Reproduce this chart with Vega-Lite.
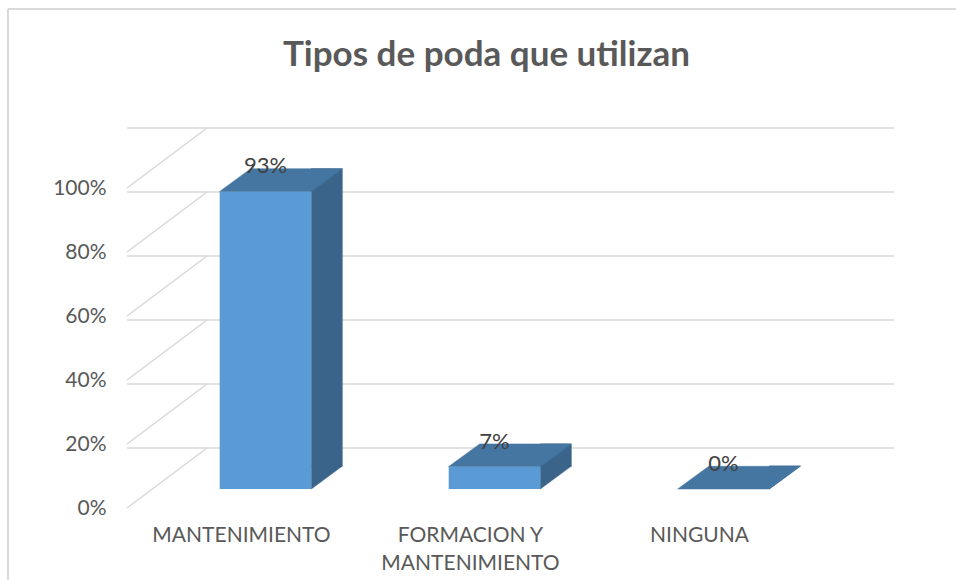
{
  "$schema": "https://vega.github.io/schema/vega-lite/v6.json",
  "width": 687,
  "height": 320,
  "autosize": {"type": "none"},
  "padding": {"left": 127, "top": 188, "right": 142, "bottom": 72},
  "background": "white",
  "config": {"view": {"stroke": null}, "font": "Lato"},
  "title": {
    "text": "Tipos de poda que utilizan",
    "font": "Lato",
    "fontSize": 35,
    "fontWeight": "bold",
    "color": "#595959",
    "anchor": "middle",
    "frame": "group",
    "baseline": "alphabetic",
    "dx": 16,
    "offset": 0,
    "dy": 93
  },
  "data": {
    "values": [
      {"tipo": "MANTENIMIENTO", "valor": 0.93},
      {"tipo": "FORMACION Y MANTENIMIENTO", "valor": 0.07},
      {"tipo": "NINGUNA", "valor": 0.0}
    ]
  },
  "encoding": {
    "x": {
      "field": "tipo",
      "type": "nominal",
      "sort": null,
      "scale": {"paddingInner": 0, "paddingOuter": 0},
      "axis": {
        "title": null,
        "labelAngle": 0,
        "ticks": false,
        "domain": false,
        "grid": false,
        "labelFont": "Lato",
        "labelFontSize": 21,
        "labelColor": "#595959",
        "labelPadding": 16,
        "labelLineHeight": 28,
        "labelLimit": 300,
        "labelExpr": "datum.label == 'FORMACION Y MANTENIMIENTO' ? ['FORMACION Y', 'MANTENIMIENTO'] : datum.label"
      }
    }
  },
  "layer": [
    {
      "data": {"values": [{"t": 0}, {"t": 0.2}, {"t": 0.4}, {"t": 0.6}, {"t": 0.8}, {"t": 1.0}]},
      "mark": {"type": "rule", "color": "#D9D9D9", "strokeWidth": 1.5, "xOffset": 80, "x2Offset": 80, "yOffset": -60},
      "encoding": {
        "x": null,
        "y": {
          "field": "t",
          "type": "quantitative",
          "scale": {"domain": [0, 1], "nice": false, "zero": true},
          "axis": {
            "title": null,
            "format": ".0%",
            "values": [0, 0.2, 0.4, 0.6, 0.8, 1.0],
            "ticks": false,
            "domain": false,
            "grid": false,
            "labelFont": "Lato",
            "labelFontSize": 21,
            "labelColor": "#595959",
            "labelPadding": 21
          }
        }
      }
    },
    {
      "data": {"values": [{"t": 0}, {"t": 0.2}, {"t": 0.4}, {"t": 0.6}, {"t": 0.8}, {"t": 1.0}]},
      "mark": {"type": "rule", "color": "#D9D9D9", "strokeWidth": 1.5, "x2Offset": 80, "y2Offset": -60},
      "encoding": {
        "x": {"value": 0},
        "x2": {"value": 0},
        "y": {"field": "t", "type": "quantitative"},
        "y2": {"field": "t"}
      }
    },
    {
      "mark": {"type": "bar", "color": "#3A6489", "stroke": "#3A6489", "strokeWidth": 0.6, "width": 31, "xOffset": 85.3, "x2Offset": 85.3, "yOffset": -41.7, "y2Offset": -41.7},
      "encoding": {
        "y": {"field": "valor", "type": "quantitative"}
      }
    },
    {
      "mark": {"type": "point", "filled": true, "opacity": 1, "color": "#3A6489", "stroke": "#3A6489", "strokeWidth": 0.6, "size": 40000, "shape": "M 0.458 -0.229 L 0.458 0 L 0.768 -0.229 Z", "xOffset": 24, "yOffset": -19},
      "encoding": {
        "y": {"datum": 0, "type": "quantitative"}
      }
    },
    {
      "mark": {"type": "bar", "color": "#5B9BD5", "width": {"band": 0.4}, "xOffset": 24, "x2Offset": 24, "yOffset": -19, "y2Offset": -19},
      "encoding": {
        "y": {"field": "valor", "type": "quantitative"}
      }
    },
    {
      "mark": {"type": "point", "filled": true, "opacity": 1, "color": "#4576A2", "stroke": "#4576A2", "strokeWidth": 0.5, "size": 40000, "shape": "M -0.458 0 L 0.458 0 L 0.768 -0.227 L -0.148 -0.227 Z", "xOffset": 24, "yOffset": -19},
      "encoding": {
        "y": {"field": "valor", "type": "quantitative"}
      }
    },
    {
      "mark": {"type": "text", "font": "Lato", "fontSize": 22, "color": "#404040", "baseline": "middle", "align": "center", "xOffset": 24, "yOffset": -44},
      "encoding": {
        "y": {"field": "valor", "type": "quantitative"},
        "text": {"field": "valor", "type": "quantitative", "format": ".0%"}
      }
    },
    {
      "data": {"values": [{"frame": "borde"}]},
      "mark": {"type": "rule", "color": "#D9D9D9", "strokeWidth": 2},
      "encoding": {
        "x": {"value": -119},
        "x2": {"value": 829},
        "y": {"value": -179}
      }
    },
    {
      "data": {"values": [{"frame": "borde"}]},
      "mark": {"type": "rule", "color": "#D9D9D9", "strokeWidth": 2},
      "encoding": {
        "x": {"value": -119},
        "y": {"value": -179},
        "y2": {"value": 392}
      }
    }
  ]
}
